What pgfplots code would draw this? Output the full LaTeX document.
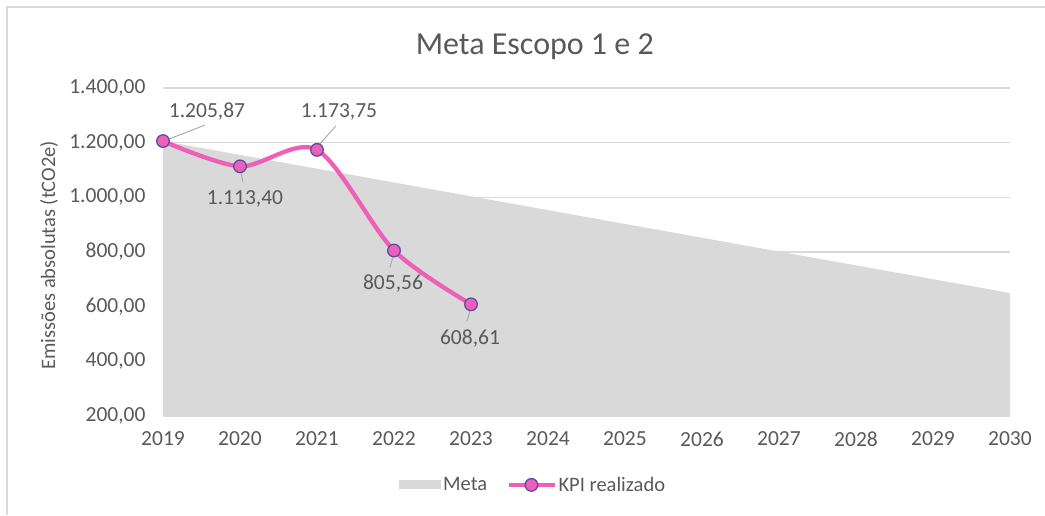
\documentclass[border=0pt]{standalone}
\usepackage{pgfplots}
\pgfplotsset{compat=1.18}
\usepackage{fontspec}
\setmainfont{Carlito}
\definecolor{txt}{HTML}{595959}
\definecolor{gridc}{HTML}{D9D9D9}
\definecolor{areac}{HTML}{D9D9D9}
\definecolor{kpi}{HTML}{EE5FB7}
\definecolor{mk}{HTML}{5B4DA8}
\definecolor{leadc}{HTML}{A6A6A6}
\definecolor{framec}{HTML}{D9D9D9}
\pgfplotsset{
  arealeg/.style={legend image code/.code={\fill[areac] (0pt,-4.5pt) rectangle (42pt,4.5pt);}},
  lineleg/.style={legend image code/.code={\draw[mark repeat=2,mark phase=2,##1] plot coordinates {(0pt,0pt) (22pt,0pt) (45pt,0pt)};}},
}
\pgfplotstableread{
year meta
2019 1205.87
2030 650
}\metatable
\pgfplotstableread{
year kpi
2019 1205.87
2020 1113.40
2021 1173.75
2022 805.56
2023 608.61
}\kpitable
\begin{document}
\begin{tikzpicture}
\useasboundingbox (0pt,0pt) rectangle (1045pt,515pt);
\draw[framec,line width=1.5pt] (7pt,0pt) -- (7pt,508pt) -- (1045pt,508pt);
\begin{axis}[
  at={(163pt,99pt)}, anchor=south west,
  scale only axis, width=847pt, height=328pt,
  xmin=2019, xmax=2030, ymin=200, ymax=1400,
  xtick={2019,2020,...,2030},
  ytick={200,400,...,1400},
  axis line style={draw=none},
  tick style={draw=none},
  ymajorgrids, major grid style={gridc,line width=1.2pt},
  font=\fontsize{21.5}{25}\selectfont,
  tick label style={txt},
  /pgf/number format/assume math mode=true,
  yticklabel style={xshift=-14pt, /pgf/number format/.cd,fixed,fixed zerofill,precision=2,use comma,1000 sep={.}},
  xticklabel style={yshift=-12pt, /pgf/number format/.cd,1000 sep={}},
  title={Meta Escopo 1 e 2},
  title style={font=\fontsize{32}{38}\selectfont, txt, at={(0.439,1.107)}, anchor=center},
  ylabel={Emissões absolutas (tCO2e)},
  every axis y label/.style={at={(axis description cs:-0.1346,0.49)}, anchor=center, rotate=90, txt, font=\fontsize{20.5}{24}\selectfont},
  legend style={at={(0.437,-0.21)}, anchor=center, draw=none, fill=none, legend columns=2,
    font=\fontsize{20.5}{24}\selectfont, text=txt,
    /tikz/every even column/.append style={column sep=18pt},
    legend cell align=left},
  clip=true,
]
\addplot[fill=areac, draw=none, arealeg]
  table[x=year,y=meta]{\metatable} \closedcycle;
\addlegendentry{Meta}
\addplot[kpi, line width=4.3pt, smooth, tension=0.5,
  mark=*, mark size=6.3pt, mark options={fill=kpi, draw=mk, line width=1.3pt}, lineleg]
  table[x=year,y=kpi]{\kpitable};
\addlegendentry{KPI realizado}
\begin{scope}[leadc, line width=0.9pt]
\draw ([shift={(6pt,2pt)}]axis cs:2019,1205.87) -- ++(36pt,14pt);
\draw ([shift={(1pt,-6pt)}]axis cs:2020,1113.40) -- ++(2pt,-10pt);
\draw ([shift={(3pt,6pt)}]axis cs:2021,1173.75) -- ++(16pt,18pt);
\draw ([shift={(-1pt,-6pt)}]axis cs:2022,805.56) -- ++(-3pt,-11pt);
\draw ([shift={(-1pt,-6pt)}]axis cs:2023,608.61) -- ++(-3pt,-11pt);
\end{scope}
\begin{scope}[every node/.style={txt, font=\fontsize{21.5}{25}\selectfont, inner sep=0pt, anchor=center}]
\node at (axis cs:2019,1205.87) [xshift=44pt, yshift=30pt] {1.205,87};
\node at (axis cs:2020,1113.40) [xshift=5pt, yshift=-33pt] {1.113,40};
\node at (axis cs:2021,1173.75) [xshift=22pt, yshift=38pt] {1.173,75};
\node at (axis cs:2022,805.56) [xshift=-1pt, yshift=-33pt] {805,56};
\node at (axis cs:2023,608.61) [xshift=-1pt, yshift=-34pt] {608,61};
\end{scope}
\end{axis}
\end{tikzpicture}
\end{document}
